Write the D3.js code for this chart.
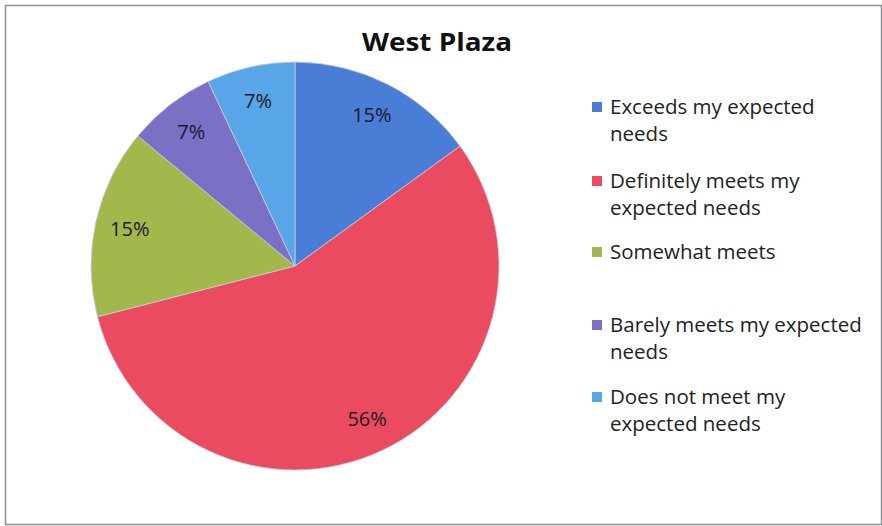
<!DOCTYPE html>
<html><head><meta charset="utf-8">
<script src="https://cdn.jsdelivr.net/npm/d3@7"></script>
<style>body{margin:0;background:#fff}svg{display:block}</style>
</head><body>
<script>
const title = "West Plaza";
const categories = ["Exceeds my expected needs","Definitely meets my expected needs","Somewhat meets","Barely meets my expected needs","Does not meet my expected needs"];
const legendLines = [["Exceeds my expected","needs"],["Definitely meets my","expected needs"],["Somewhat meets"],["Barely meets my expected","needs"],["Does not meet my","expected needs"]];
const values = [15,56,15,7,7];
const colors = ["#4a7ed6","#ea4b60","#a2b84c","#7a70c6","#58a6e8"];

const W=882,H=526;
const svg=d3.select("body").append("svg").attr("width",W).attr("height",H);
svg.append("rect").attr("x",5.5).attr("y",5.5).attr("width",W-6).attr("height",H-7)
  .attr("fill","#fff").attr("stroke","#8a8f98").attr("stroke-width",1.5);
svg.append("text").attr("x",437).attr("y",51).attr("text-anchor","middle")
  .attr("font-family","Open Sans, sans-serif").attr("font-weight","bold").attr("font-size",25)
  .attr("textLength",150).attr("lengthAdjust","spacingAndGlyphs")
  .attr("fill","#111").text(title);

const cx=295,cy=266,r=204;
const pie=d3.pie().sort(null).value(d=>d);
const arcs=pie(values);
const arc=d3.arc().innerRadius(0).outerRadius(r);
const labelArc=d3.arc().innerRadius(r*0.83).outerRadius(r*0.83);
const g=svg.append("g").attr("transform",`translate(${cx},${cy})`);
g.selectAll("path").data(arcs).join("path").attr("d",arc)
  .attr("fill",(d,i)=>colors[i]).attr("stroke","#c9cde0").attr("stroke-width",0.8);
g.selectAll("text").data(arcs).join("text")
  .attr("transform",d=>`translate(${labelArc.centroid(d)})`)
  .attr("text-anchor","middle").attr("dy","0.35em")
  .attr("font-family","Open Sans, sans-serif").attr("font-size",20).attr("fill","#1a1a2a")
  .text(d=>d.data+"%");

const itemY=[107,181,252,325,397];
const lg=svg.append("g");
legendLines.forEach((lines,i)=>{
  lg.append("rect").attr("x",592).attr("y",itemY[i]-5).attr("width",10).attr("height",10)
    .attr("fill",colors[i]);
  const t=lg.append("text").attr("x",610).attr("y",itemY[i]+7)
    .attr("font-family","Open Sans, sans-serif").attr("font-size",20.5).attr("fill","#222");
  lines.forEach((l,j)=>t.append("tspan").attr("x",610).attr("dy",j?27:0).text(l));
});
</script>
</body></html>
